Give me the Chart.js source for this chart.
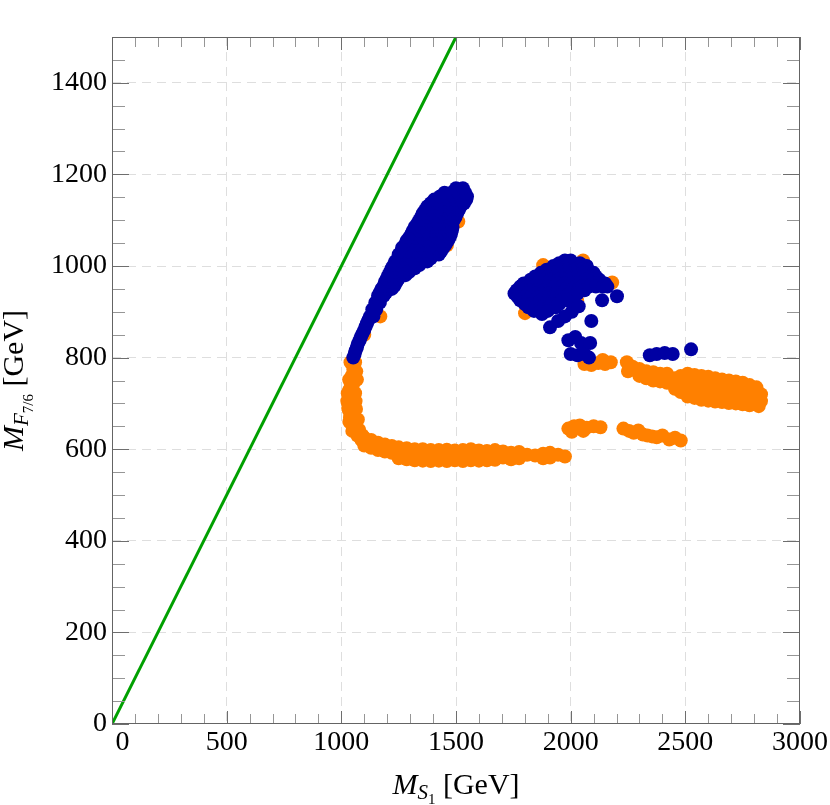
<!DOCTYPE html>
<html>
<head>
<meta charset="utf-8">
<script src="https://cdn.jsdelivr.net/npm/chart.js@4.4.1/dist/chart.umd.min.js"></script>
<style>
    html, body { margin: 0; padding: 0; background: #fff; }
    #contenedor { width: 830px; height: 805px; }
</style>
</head>
<body>
<div id="contenedor"><canvas id="graficoMasas"></canvas></div>
<script>
// Ejes y marcas
const xTicks = [0, 500, 1000, 1500, 2000, 2500, 3000];
const yTicks = [0, 200, 400, 600, 800, 1000, 1200, 1400];
const xMinorStep = 100;
const yMinorStep = 50;

// Recta M_F = M_S
const diagonal = [[0, 0], [1500, 1500]];

// Puntos naranjas: tramo vertical de la L
const naranjaVertical = [
    [1060, 790], [1052, 775], [1045, 760], [1058, 760], [1040, 745], [1055, 745], [1035, 730],
    [1050, 730], [1032, 715], [1048, 715], [1030, 700], [1046, 700], [1033, 685], [1050, 685],
    [1038, 670], [1056, 670], [1045, 655], [1065, 655], [1055, 642], [1078, 642], [1070, 630],
    [1092, 630], [1088, 620],
    [1028, 722], [1026, 705], [1030, 690], [1060, 722], [1062, 705], [1064, 688], [1065, 770],
    [1034, 752], [1068, 752], [1035, 660], [1072, 665], [1048, 640]
];

// Puntos naranjas: banda inferior
const naranjaBanda = [
    [1100, 625], [1100, 608], [1130, 620], [1130, 603], [1160, 614], [1160, 598],
    [1190, 610], [1190, 595], [1220, 607], [1220, 592],
    [1250, 604], [1250, 590], [1250, 580], [1285, 602], [1285, 588], [1285, 578],
    [1320, 600], [1320, 587], [1320, 576], [1355, 600], [1355, 586], [1355, 575],
    [1390, 598], [1390, 585], [1390, 574], [1425, 598], [1425, 584], [1425, 575],
    [1460, 599], [1460, 586], [1460, 574], [1495, 597], [1495, 584], [1495, 576],
    [1530, 598], [1530, 585], [1530, 574], [1565, 600], [1565, 586], [1565, 576],
    [1600, 597], [1600, 584], [1600, 575], [1635, 596], [1635, 583], [1635, 576],
    [1670, 598], [1670, 585], [1670, 577], [1705, 595], [1705, 582], [1740, 592], [1740, 578],
    [1775, 594], [1775, 580], [1810, 588], [1845, 586], [1880, 590], [1880, 580],
    [1910, 592], [1910, 582], [1945, 588], [1975, 584]
];

// Puntos naranjas bajo los azules
const naranjaOculta = [
    [1040, 790], [1100, 850], [1170, 890], [1200, 950], [1300, 1000], [1460, 1045],
    [1480, 1080], [1510, 1097], [1801, 897], [1880, 1002], [2054, 1012], [2181, 964],
    [2028, 925], [1990, 960], [1900, 940]
];

// Tramos naranjas sueltos
const naranjaTramos = [
    [1990, 645], [2015, 650], [2040, 652], [2070, 647], [2100, 650], [2130, 648], [2005, 638], [2055, 640],
    [2230, 645], [2255, 640], [2275, 636], [2295, 641], [2315, 632], [2335, 630], [2355, 628],
    [2375, 626], [2400, 630], [2430, 621], [2455, 625], [2480, 619]
];

// Banda naranja de la derecha
const naranjaDerecha = [
    [2060, 786], [2090, 784], [2120, 788], [2150, 786], [2175, 790], [2075, 795], [2140, 795],
    [2245, 790], [2270, 780], [2250, 770], [2290, 772],
    [2300, 775], [2300, 760], [2330, 770], [2330, 755], [2360, 768], [2360, 750], [2390, 765],
    [2390, 748], [2420, 765], [2420, 745], [2455, 732], [2455, 755],
    [2480, 760], [2480, 742], [2480, 725],
    [2510, 765], [2510, 748], [2510, 730], [2510, 715],
    [2540, 762], [2540, 745], [2540, 728], [2540, 712],
    [2570, 760], [2570, 742], [2570, 725], [2570, 708],
    [2600, 758], [2600, 740], [2600, 722], [2600, 706],
    [2630, 755], [2630, 738], [2630, 720], [2630, 704],
    [2660, 752], [2660, 735], [2660, 718], [2660, 703],
    [2690, 750], [2690, 732], [2690, 716], [2690, 701],
    [2720, 748], [2720, 730], [2720, 714], [2720, 700],
    [2750, 745], [2750, 728], [2750, 712], [2750, 698],
    [2780, 740], [2780, 724], [2780, 708], [2780, 696],
    [2810, 735], [2810, 718], [2810, 702],
    [2830, 720], [2830, 705], [2820, 694]
];

// Puntos azules: brazo superior
const azulBrazo = [
    [1052, 800], [1058, 808], [1062, 815], [1068, 822], [1072, 830], [1080, 838], [1085, 845],
    [1092, 852], [1100, 860], [1106, 868], [1112, 875], [1118, 882],
    [1125, 890], [1140, 890], [1135, 905], [1152, 905], [1148, 920], [1168, 920],
    [1160, 935], [1185, 935], [1168, 942], [1195, 942], [1175, 950], [1200, 950], [1220, 950],
    [1185, 957], [1210, 957], [1232, 957],
    [1190, 965], [1215, 965], [1240, 965], [1198, 972], [1225, 972], [1250, 972],
    [1205, 980], [1230, 980], [1255, 980], [1280, 980], [1212, 987], [1240, 987], [1268, 987], [1295, 987],
    [1220, 995], [1245, 995], [1270, 995], [1295, 995], [1320, 995],
    [1228, 1002], [1258, 1002], [1285, 1002], [1310, 1002], [1340, 1002],
    [1235, 1010], [1260, 1010], [1290, 1010], [1320, 1010], [1350, 1010], [1375, 1010],
    [1248, 1017], [1275, 1017], [1305, 1017], [1335, 1017], [1362, 1017], [1390, 1017],
    [1250, 1025], [1280, 1025], [1310, 1025], [1340, 1025], [1370, 1025], [1400, 1025], [1425, 1025],
    [1262, 1032], [1295, 1032], [1325, 1032], [1355, 1032], [1385, 1032], [1412, 1032], [1435, 1032],
    [1265, 1040], [1295, 1040], [1325, 1040], [1355, 1040], [1385, 1040], [1415, 1040], [1445, 1040],
    [1278, 1047], [1310, 1047], [1340, 1047], [1370, 1047], [1400, 1047], [1430, 1047], [1455, 1047],
    [1285, 1055], [1315, 1055], [1345, 1055], [1375, 1055], [1405, 1055], [1435, 1055], [1465, 1055],
    [1295, 1062], [1325, 1062], [1355, 1062], [1385, 1062], [1415, 1062], [1445, 1062], [1472, 1062],
    [1305, 1070], [1335, 1070], [1365, 1070], [1395, 1070], [1425, 1070], [1455, 1070], [1478, 1070],
    [1312, 1077], [1342, 1077], [1372, 1077], [1402, 1077], [1432, 1077], [1462, 1077], [1482, 1077],
    [1320, 1085], [1350, 1085], [1380, 1085], [1410, 1085], [1440, 1085], [1470, 1085], [1485, 1085],
    [1330, 1092], [1360, 1092], [1390, 1092], [1420, 1092], [1450, 1092], [1478, 1092],
    [1340, 1100], [1370, 1100], [1400, 1100], [1430, 1100], [1460, 1100], [1490, 1100],
    [1348, 1107], [1378, 1107], [1408, 1107], [1438, 1107], [1468, 1107], [1498, 1107],
    [1355, 1115], [1385, 1115], [1415, 1115], [1445, 1115], [1475, 1115], [1505, 1115],
    [1365, 1122], [1395, 1122], [1425, 1122], [1455, 1122], [1485, 1122], [1512, 1122],
    [1375, 1130], [1405, 1130], [1435, 1130], [1465, 1130], [1495, 1130], [1520, 1130],
    [1390, 1137], [1420, 1137], [1450, 1137], [1480, 1137], [1510, 1137], [1535, 1137],
    [1405, 1145], [1435, 1145], [1465, 1145], [1495, 1145], [1525, 1145], [1545, 1145],
    [1430, 1152], [1460, 1152], [1490, 1152], [1520, 1152], [1548, 1152],
    [1450, 1160], [1480, 1160], [1510, 1160], [1540, 1160],
    [1500, 1170], [1530, 1170]
];

// Puntos azules: nube central
const azulNube = [
    [1975, 1012], [2000, 1012],
    [1950, 1006], [1980, 1006], [2010, 1006], [2040, 1006],
    [1925, 1000], [1955, 1000], [1985, 1000], [2015, 1000], [2045, 1000], [2070, 1000],
    [1895, 992], [1925, 992], [1955, 992], [1985, 992], [2015, 992], [2045, 992], [2075, 992],
    [1870, 985], [1900, 985], [1930, 985], [1960, 985], [1990, 985], [2020, 985], [2050, 985],
    [2080, 985], [2100, 985],
    [1845, 977], [1875, 977], [1905, 977], [1935, 977], [1965, 977], [1995, 977], [2025, 977],
    [2055, 977], [2085, 977], [2110, 977],
    [1825, 970], [1855, 970], [1885, 970], [1915, 970], [1945, 970], [1975, 970], [2005, 970],
    [2035, 970], [2065, 970], [2095, 970], [2125, 970],
    [1795, 962], [1825, 962], [1855, 962], [1885, 962], [1915, 962], [1945, 962], [1975, 962],
    [2005, 962], [2035, 962], [2065, 962], [2095, 962], [2125, 962], [2150, 962],
    [1780, 955], [1810, 955], [1840, 955], [1870, 955], [1900, 955], [1930, 955], [1960, 955],
    [1990, 955], [2020, 955], [2050, 955], [2080, 955], [2110, 955], [2140, 955], [2160, 955],
    [1765, 947], [1795, 947], [1825, 947], [1855, 947], [1885, 947], [1915, 947], [1945, 947],
    [1975, 947], [2005, 947], [2035, 947], [2060, 947],
    [1755, 940], [1785, 940], [1815, 940], [1845, 940], [1875, 940], [1905, 940], [1935, 940],
    [1965, 940], [1995, 940], [2030, 940],
    [1770, 932], [1800, 932], [1830, 932], [1860, 932], [1890, 932], [1920, 932], [1950, 932],
    [1980, 932], [2010, 932],
    [1780, 925], [1810, 925], [1840, 925], [1870, 925], [1900, 925], [1930, 925], [1960, 925],
    [1985, 925],
    [1800, 917], [1830, 917], [1860, 917], [1890, 917], [1920, 917], [1950, 917],
    [1816, 910], [1845, 910], [1875, 910], [1905, 910], [1935, 910],
    [1840, 902], [1870, 902], [1900, 902],
    [1875, 895]
];

// Puntos azules sueltos
const azulSueltos = [
    [1910, 866], [1945, 880], [1975, 890], [2005, 900], [2035, 912], [2090, 880], [2137, 925],
    [2202, 934], [1990, 838], [2020, 845], [2045, 832], [2085, 832], [2000, 808], [2030, 805],
    [2060, 808], [2080, 800], [2345, 805], [2375, 808], [2410, 810], [2445, 808], [2525, 818]
];

const aPuntos = lista => lista.map(p => ({ x: p[0], y: p[1] }));

const fuente = "'Liberation Serif', 'Times New Roman', serif";
const colorNaranja = 'rgb(255, 128, 0)';
const colorAzul = 'rgb(0, 0, 163)';
const colorVerde = 'rgb(0, 160, 0)';
const radio = 7;

// Texto con subindices
function textoCompuesto(ctx, partes, x, y) {
    let total = 0;
    partes.forEach(p => { ctx.font = p[1]; total += ctx.measureText(p[0]).width; });
    let cx = x - total / 2;
    partes.forEach(p => {
        ctx.font = p[1];
        ctx.fillText(p[0], cx, y + p[2]);
        cx += ctx.measureText(p[0]).width;
    });
}

// Marco con marcas hacia dentro en los cuatro lados y titulos de ejes
const marco = {
    id: 'marco',
    afterDatasetsDraw(chart) {
        const { ctx, chartArea: a, scales: { x, y } } = chart;
        ctx.save();
        ctx.lineWidth = 1;
        for (let v = x.min; v <= x.max; v += xMinorStep) {
            const px = Math.round(x.getPixelForValue(v)) + 0.5;
            const mayor = xTicks.includes(v);
            const largo = mayor ? 13 : 10;
            ctx.strokeStyle = mayor ? 'rgb(110,110,110)' : 'rgb(150,150,150)';
            ctx.beginPath();
            ctx.moveTo(px, a.bottom);
            ctx.lineTo(px, a.bottom - largo);
            ctx.moveTo(px, a.top);
            ctx.lineTo(px, a.top + largo);
            ctx.stroke();
        }
        for (let v = y.min; v <= y.max; v += yMinorStep) {
            const py = Math.round(y.getPixelForValue(v)) + 0.5;
            const mayor = yTicks.includes(v);
            const largo = mayor ? 17 : 13;
            ctx.strokeStyle = mayor ? 'rgb(110,110,110)' : 'rgb(150,150,150)';
            ctx.beginPath();
            ctx.moveTo(a.left, py);
            ctx.lineTo(a.left + largo, py);
            ctx.moveTo(a.right, py);
            ctx.lineTo(a.right - largo, py);
            ctx.stroke();
        }
        ctx.strokeStyle = 'rgb(100,100,100)';
        ctx.strokeRect(Math.round(a.left) + 0.5, Math.round(a.top) + 0.5,
            Math.round(a.right - a.left) - 1, Math.round(a.bottom - a.top) - 1);
        ctx.restore();
    },
    afterDraw(chart) {
        const { ctx, chartArea: a } = chart;
        ctx.save();
        ctx.fillStyle = '#000';
        ctx.textBaseline = 'alphabetic';
        textoCompuesto(ctx, [
            ['M', 'italic 30px ' + fuente, 0],
            ['S', 'italic 21px ' + fuente, 5],
            ['1', '15px ' + fuente, 10],
            [' [GeV]', '30px ' + fuente, 0]
        ], (a.left + a.right) / 2, 794);
        ctx.translate(23, (a.top + a.bottom) / 2);
        ctx.rotate(-Math.PI / 2);
        textoCompuesto(ctx, [
            ['M', 'italic 30px ' + fuente, 0],
            ['F', 'italic 21px ' + fuente, 5],
            ['7/6', '15px ' + fuente, 10],
            [' [GeV]', '30px ' + fuente, 0]
        ], 0, 0);
        ctx.restore();
    }
};

const ctx = document.getElementById('graficoMasas').getContext('2d');
new Chart(ctx, {
    type: 'scatter',
    data: {
        datasets: [
            {
                type: 'line',
                data: aPuntos(diagonal),
                borderColor: colorVerde,
                borderWidth: 3,
                pointRadius: 0,
                fill: false,
                order: 0
            },
            {
                data: aPuntos(azulBrazo.concat(azulNube, azulSueltos)),
                backgroundColor: colorAzul,
                pointRadius: radio,
                pointBorderWidth: 0,
                order: 1
            },
            {
                data: aPuntos(naranjaVertical.concat(naranjaBanda, naranjaOculta, naranjaTramos, naranjaDerecha)),
                backgroundColor: colorNaranja,
                pointRadius: radio,
                pointBorderWidth: 0,
                order: 2
            }
        ]
    },
    options: {
        responsive: true,
        maintainAspectRatio: false,
        animation: false,
        layout: { padding: { left: 0, right: 30, top: 37, bottom: 0 } },
        plugins: {
            legend: { display: false },
            tooltip: { enabled: false }
        },
        scales: {
            x: {
                type: 'linear',
                min: 0,
                max: 3000,
                afterBuildTicks: s => { s.ticks = xTicks.map(v => ({ value: v })); },
                afterFit: s => { s.height = 81; },
                ticks: {
                    font: { family: fuente, size: 28 },
                    color: '#000',
                    padding: 2,
                    maxRotation: 0,
                    autoSkip: false,
                    callback: v => v === 0 ? '   0' : String(v)
                },
                grid: {
                    color: c => (c.tick && (c.tick.value === 0 || c.tick.value === 3000)) ? 'rgba(0,0,0,0)' : 'rgb(222,222,222)',
                    lineWidth: 1,
                    drawTicks: false
                },
                border: { display: false, dash: [9, 6] }
            },
            y: {
                type: 'linear',
                min: 0,
                max: 1500,
                afterBuildTicks: s => { s.ticks = yTicks.map(v => ({ value: v })); },
                afterFit: s => { s.width = 112; },
                ticks: {
                    font: { family: fuente, size: 28 },
                    color: '#000',
                    padding: 5,
                    autoSkip: false,
                    callback: v => String(v)
                },
                grid: {
                    color: c => (c.tick && c.tick.value === 0) ? 'rgba(0,0,0,0)' : 'rgb(222,222,222)',
                    lineWidth: 1,
                    drawTicks: false
                },
                border: { display: false, dash: [9, 6] }
            }
        }
    },
    plugins: [marco]
});
</script>
</body>
</html>
